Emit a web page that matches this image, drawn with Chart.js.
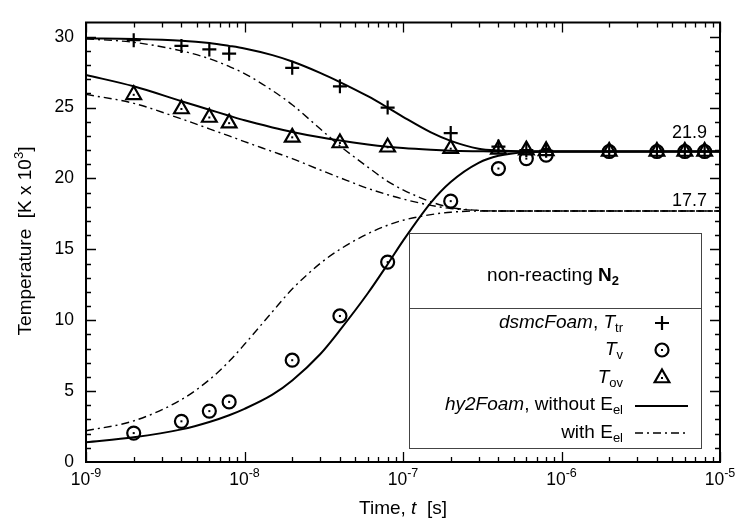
<!DOCTYPE html>
<html><head><meta charset="utf-8">
<script src="https://cdn.jsdelivr.net/npm/chart.js@4.4.0/dist/chart.umd.min.js"></script>
<style>html,body{margin:0;padding:0;background:#fff;}</style>
</head><body>
<canvas id="c" width="738" height="519"></canvas>
<script>
// ---------- data ----------
const dsmcTimes = [2e-9,4e-9,6e-9,8e-9,2e-8,4e-8,8e-8,2e-7,4e-7,6e-7,8e-7,2e-6,4e-6,6e-6,8e-6];
const dsmcTtr   = [29.75,29.35,29.1,28.8,27.8,26.5,25.0,23.2,22.25,22.0,21.95,21.9,21.9,21.9,21.9];
const dsmcTv    = [2.04,2.87,3.59,4.24,7.18,10.3,14.1,18.4,20.7,21.4,21.65,21.9,21.9,21.9,21.9];
const dsmcTov   = [25.9,24.9,24.3,23.9,22.9,22.5,22.2,22.1,22.05,22.0,21.95,21.9,21.9,21.9,21.9];

const lineTimes = [1e-9,2e-9,4e-9,6e-9,8e-9,1e-8,1.5e-8,2e-8,3e-8,4e-8,6e-8,8e-8,1e-7,1.5e-7,2e-7,3e-7,4e-7,6e-7,1e-6,1e-5];
const hyTtr = [29.88,29.84,29.72,29.55,29.35,29.17,28.7,28.25,27.45,26.8,25.8,25.0,24.35,23.25,22.65,22.1,21.97,21.91,21.9,21.9];
const hyTov = [27.3,26.5,25.45,24.85,24.42,24.1,23.6,23.28,22.9,22.67,22.4,22.24,22.14,22.02,21.96,21.92,21.9,21.9,21.9,21.9];
const hyTv  = [1.39,1.74,2.3,2.82,3.3,3.75,4.75,5.75,7.6,9.3,11.9,13.95,15.6,18.3,19.75,21.1,21.6,21.85,21.9,21.9];
const elTtr = [29.85,29.6,29.0,28.45,27.9,27.4,26.2,25.2,23.5,22.3,20.8,19.8,19.2,18.35,17.95,17.75,17.7,17.7,17.7,17.7];
const elTov = [25.93,25.3,24.2,23.5,23.0,22.6,21.9,21.4,20.6,20.05,19.3,18.85,18.55,18.1,17.88,17.74,17.7,17.7,17.7,17.7];
const elTv  = [2.2,2.9,4.4,5.8,7.1,8.3,10.6,12.2,14.0,15.0,16.1,16.7,17.05,17.45,17.62,17.7,17.7,17.7,17.7,17.7];

const xDecadeExps = [-9,-8,-7,-6,-5];
const yTickValues = [0,5,10,15,20,25,30];
const annotations = [{value:21.9, label:'21.9'},{value:17.7, label:'17.7'}];

// ---------- helpers ----------
const FAM = "'Liberation Sans', Arial, Helvetica, sans-serif";
const F = (s, st) => (st ? st + ' ' : '') + s + 'px ' + FAM;
const pts = (xs, ys) => xs.map((t,i)=>({x:t, y:ys[i]}));
const DASHDOT = [8,4,2,4];

function rich(ctx, segs, x, y, align, base){
  let w = 0;
  segs.forEach(s=>{ctx.font = s.f || base; s.w = ctx.measureText(s.t).width; w += s.w;});
  let cx = align==='right' ? x - w : align==='center' ? x - w/2 : x;
  segs.forEach(s=>{ctx.font = s.f || base; ctx.fillText(s.t, cx, y + (s.dy||0)); cx += s.w;});
}
function marker(ctx, style, x, y){
  ctx.save();
  ctx.strokeStyle='#000'; ctx.fillStyle='#000'; ctx.lineWidth=2.2;
  ctx.beginPath();
  if(style==='cross'){
    ctx.moveTo(x-7,y); ctx.lineTo(x+7,y); ctx.moveTo(x,y-7); ctx.lineTo(x,y+7); ctx.stroke();
  } else if(style==='circle'){
    ctx.arc(x,y,6.5,0,Math.PI*2); ctx.stroke(); ctx.fillRect(x-1,y-1,2,2);
  } else {
    const r=8.5;
    ctx.moveTo(x, y-r); ctx.lineTo(x+r*Math.sin(2*Math.PI/3), y-r*Math.cos(2*Math.PI/3));
    ctx.lineTo(x+r*Math.sin(4*Math.PI/3), y-r*Math.cos(4*Math.PI/3)); ctx.closePath(); ctx.stroke();
    ctx.fillRect(x-1,y-1,2,2);
  }
  ctx.restore();
}

const decor = {
  id:'decor',
  afterDatasetsDraw(chart){
    const ctx = chart.ctx;
    chart.data.datasets.forEach((ds,i)=>{
      if(!ds.centerDot) return;
      chart.getDatasetMeta(i).data.forEach(p=>{ctx.fillStyle='#000'; ctx.fillRect(p.x-1,p.y-1,2,2);});
    });
  },
  afterDraw(chart){
    const {ctx, chartArea:a, scales:{x,y}} = chart;
    ctx.save();
    ctx.strokeStyle='#000'; ctx.fillStyle='#000';
    ctx.lineWidth=2;
    ctx.strokeRect(a.left, a.top, a.right-a.left, a.bottom-a.top);
    ctx.lineWidth=1.3;
    ctx.beginPath();
    xDecadeExps.forEach(e=>{
      for(let k=1;k<=9;k++){
        if(e===-5 && k>1) break;
        const px = Math.round(x.getPixelForValue(k*Math.pow(10,e)))+0.5;
        const len = k===1?10:5;
        ctx.moveTo(px,a.bottom); ctx.lineTo(px,a.bottom-len);
        ctx.moveTo(px,a.top); ctx.lineTo(px,a.top+len);
      }
    });
    for(let v=1; v<31; v++){
      const py = Math.round(y.getPixelForValue(v))+0.5;
      const len = v%5===0?10:5;
      ctx.moveTo(a.left,py); ctx.lineTo(a.left+len,py);
      ctx.moveTo(a.right,py); ctx.lineTo(a.right-len,py);
    }
    ctx.stroke();
    ctx.textBaseline='alphabetic';
    // x tick labels
    xDecadeExps.forEach(e=>{
      const px = x.getPixelForValue(Math.pow(10,e));
      rich(ctx,[{t:'10'},{t:String(e), f:F(12.5), dy:-8}], px, a.bottom+23, 'center', F(17.5));
    });
    // x title
    rich(ctx,[{t:'Time, '},{t:'t', f:F(19,'italic')},{t:'  [s]'}], (a.left+a.right)/2, 514, 'center', F(19));
    // y title
    ctx.save();
    ctx.translate(31, 241);
    ctx.rotate(-Math.PI/2);
    rich(ctx,[{t:'Temperature  [K x 10'},{t:'3', f:F(13), dy:-8},{t:']'}], 0, 0, 'center', F(19));
    ctx.restore();
    // value annotations
    ctx.font = F(18); ctx.textAlign='right';
    annotations.forEach((an,i)=>{
      const py = y.getPixelForValue(an.value);
      ctx.fillText(an.label, 707, py - (i===0?14:5));
    });
    ctx.textAlign='left';
    // legend box
    const L=409.5, T=233.5, R=701.5, B=448.5;
    ctx.fillStyle='#fff'; ctx.fillRect(L,T,R-L,B-T);
    ctx.strokeStyle='#444'; ctx.lineWidth=1;
    ctx.strokeRect(L,T,R-L,B-T);
    ctx.beginPath(); ctx.moveTo(L,308.5); ctx.lineTo(R,308.5); ctx.stroke();
    ctx.fillStyle='#000';
    const B19 = F(19);
    rich(ctx,[{t:'non-reacting '},{t:'N', f:F(19,'bold')},{t:'2', f:F(13,'bold'), dy:4}], 553, 281, 'center', B19);
    rich(ctx,[{t:'dsmcFoam', f:F(19,'italic')},{t:', '},{t:'T', f:F(19,'italic')},{t:'tr', f:F(13), dy:4}], 623, 328, 'right', B19);
    rich(ctx,[{t:'T', f:F(19,'italic')},{t:'v', f:F(13), dy:4}], 623, 355, 'right', B19);
    rich(ctx,[{t:'T', f:F(19,'italic')},{t:'ov', f:F(13), dy:4}], 623, 383, 'right', B19);
    rich(ctx,[{t:'hy2Foam', f:F(19,'italic')},{t:', without E'},{t:'el', f:F(13), dy:4}], 623, 410, 'right', B19);
    rich(ctx,[{t:'with E'},{t:'el', f:F(13), dy:4}], 623, 438, 'right', B19);
    marker(ctx,'cross',662,323);
    marker(ctx,'circle',662,350);
    marker(ctx,'triangle',662,378);
    ctx.strokeStyle='#000'; ctx.lineWidth=2;
    ctx.beginPath(); ctx.moveTo(635,406); ctx.lineTo(688,406); ctx.stroke();
    ctx.lineWidth=1.4; ctx.setLineDash(DASHDOT);
    ctx.beginPath(); ctx.moveTo(635,433); ctx.lineTo(688,433); ctx.stroke();
    ctx.setLineDash([]);
    ctx.restore();
  }
};

const solid = (data)=>({type:'line', data, borderColor:'#000', borderWidth:2, pointRadius:0, fill:false, cubicInterpolationMode:'monotone'});
const dashdot = (data)=>({type:'line', data, borderColor:'#000', borderWidth:1.4, borderDash:DASHDOT, pointRadius:0, fill:false, cubicInterpolationMode:'monotone'});
const marks = (data, style, r, dot)=>({type:'line', data, showLine:false, pointStyle:style, pointRadius:r, pointHoverRadius:r, pointBorderWidth:2.2, pointBorderColor:'#000', pointBackgroundColor:'rgba(0,0,0,0)', borderColor:'#000', centerDot:dot});

new Chart(document.getElementById('c'), {
  data:{datasets:[
    marks(pts(dsmcTimes,dsmcTtr),'cross',7,false),
    marks(pts(dsmcTimes,dsmcTv),'circle',6.5,true),
    marks(pts(dsmcTimes,dsmcTov),'triangle',8.5,true),
    solid(pts(lineTimes,hyTtr)),
    solid(pts(lineTimes,hyTov)),
    solid(pts(lineTimes,hyTv)),
    dashdot(pts(lineTimes,elTtr)),
    dashdot(pts(lineTimes,elTov)),
    dashdot(pts(lineTimes,elTv))
  ]},
  options:{
    responsive:false, animation:false, devicePixelRatio:1,
    layout:{padding:{left:0,right:18,top:16,bottom:0}},
    plugins:{legend:{display:false}, tooltip:{enabled:false}},
    scales:{
      x:{type:'logarithmic', min:1e-9, max:1e-5, grid:{display:false, drawTicks:false}, border:{display:false}, ticks:{display:false},
         afterFit(s){s.height=57;}},
      y:{type:'linear', min:0, max:31, grid:{display:false, drawTicks:false}, border:{display:false},
         afterBuildTicks(s){s.ticks = yTickValues.map(v=>({value:v}));},
         ticks:{color:'#000', padding:12, font:{family:FAM, size:17.5}, callback:(v)=>String(v)},
         afterFit(s){s.width=86;}}
    }
  },
  plugins:[decor]
});
</script>
</body></html>
